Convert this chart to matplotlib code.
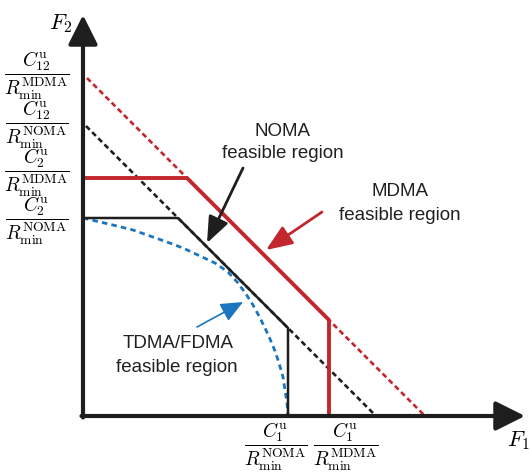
import numpy as np
import matplotlib.pyplot as plt

plt.rcParams['mathtext.fontset'] = 'cm'
plt.rcParams['font.family'] = ['Liberation Sans', 'DejaVu Sans']

# corner values (arbitrary units)
c1_noma, c1_mdma = 2.05, 2.46          # C1^u / Rmin
c2_noma, c2_mdma = 1.98, 2.38          # C2^u / Rmin
c12_noma, c12_mdma = 2.93, 3.42        # C12^u / Rmin  (sum-rate lines F1 + F2 = c12)

# TDMA/FDMA boundary, points
tdma_x = [0.00, 0.17, 0.34, 0.50, 0.67, 0.84, 1.00, 1.17, 1.32, 1.45, 1.55,
          1.63, 1.70, 1.76, 1.82, 1.87, 1.92, 1.96, 2.00, 2.02, 2.04, 2.05]
tdma_y = [1.98, 1.94, 1.90, 1.86, 1.80, 1.74, 1.68, 1.60, 1.53, 1.44, 1.33,
          1.22, 1.11, 1.00, 0.88, 0.77, 0.65, 0.53, 0.39, 0.26, 0.13, 0.00]

ytick_labels = [r'$\dfrac{C_{12}^{\mathrm{u}}}{R_{\min}^{\mathrm{MDMA}}}$',
                r'$\dfrac{C_{12}^{\mathrm{u}}}{R_{\min}^{\mathrm{NOMA}}}$',
                r'$\dfrac{C_{2}^{\mathrm{u}}}{R_{\min}^{\mathrm{MDMA}}}$',
                r'$\dfrac{C_{2}^{\mathrm{u}}}{R_{\min}^{\mathrm{NOMA}}}$']
xtick_labels = [r'$\dfrac{C_{1}^{\mathrm{u}}}{R_{\min}^{\mathrm{NOMA}}}$',
                r'$\dfrac{C_{1}^{\mathrm{u}}}{R_{\min}^{\mathrm{MDMA}}}$']

red = '#c1272d'
blue = '#1b75bf'
dark = '#1e1e1e'

fig = plt.figure(figsize=(5.3, 4.76), dpi=100)
ax = fig.add_axes([83/530, 60/476, 442/530, 401/476])
ax.set_xlim(0, 4.42)
ax.set_ylim(0, 4.01)
ax.axis('off')

# sum-rate dashed lines
xs = np.array([0.04, c12_mdma])
ax.plot(xs, c12_mdma - xs, color=red, lw=1.9, dashes=(2.0, 1.3), clip_on=False)
xs = np.array([0.03, c12_noma])
ax.plot(xs, c12_noma - xs, color=dark, lw=1.9, dashes=(2.0, 1.3), clip_on=False)

# TDMA/FDMA curve
ax.plot(tdma_x, tdma_y, color=blue, lw=2.0, dashes=(2.0, 1.5), clip_on=False)

# NOMA region
ax.plot([0, c12_noma - c2_noma, c1_noma, c1_noma],
        [c2_noma, c2_noma, c12_noma - c1_noma, 0], color=dark, lw=1.8)

# MDMA region
ax.plot([0, c12_mdma - c2_mdma, c1_mdma, c1_mdma],
        [c2_mdma, c2_mdma, c12_mdma - c1_mdma, 0], color=red, lw=2.8)

# axes with arrows
ax.annotate('', xy=(4.42, 0), xytext=(-0.015, 0),
            arrowprops=dict(arrowstyle='-|>,head_length=0.9,head_width=0.45', lw=3,
                            color=dark, mutation_scale=20, shrinkA=0, shrinkB=0))
ax.annotate('', xy=(0, 4.01), xytext=(0, -0.015),
            arrowprops=dict(arrowstyle='-|>,head_length=0.9,head_width=0.45', lw=3,
                            color=dark, mutation_scale=20, shrinkA=0, shrinkB=0))

ax.text(4.35, -0.25, r'$F_1$', fontsize=16, ha='center', va='center')
ax.text(-0.22, 3.92, r'$F_2$', fontsize=16, ha='center', va='center')

# tick labels
for lab, y in zip(ytick_labels, [3.40, 2.91, 2.43, 1.95]):
    ax.text(-0.46, y, lab, fontsize=14, ha='center', va='center')
for lab, x in zip(xtick_labels, [1.93, 2.63]):
    ax.text(x, -0.31, lab, fontsize=14, ha='center', va='center')

# annotations
txt = '#231f20'
ax.text(2.00, 2.84, 'NOMA', fontsize=13.5, ha='center', va='center', color=txt)
ax.text(2.00, 2.62, 'feasible region', fontsize=13.5, ha='center', va='center', color=txt)
ax.text(3.17, 2.24, 'MDMA', fontsize=13.5, ha='center', va='center', color=txt)
ax.text(3.17, 2.01, 'feasible region', fontsize=13.5, ha='center', va='center', color=txt)
ax.text(0.95, 0.73, 'TDMA/FDMA', fontsize=13.5, ha='center', va='center', color=txt)
ax.text(0.94, 0.49, 'feasible region', fontsize=13.5, ha='center', va='center', color=txt)

ax.annotate('', xy=(1.24, 1.73), xytext=(1.60, 2.48),
            arrowprops=dict(arrowstyle='-|>,head_length=0.8,head_width=0.32', lw=2,
                            color=dark, mutation_scale=20, shrinkA=0, shrinkB=0))
ax.annotate('', xy=(1.83, 1.66), xytext=(2.39, 2.04),
            arrowprops=dict(arrowstyle='-|>,head_length=0.8,head_width=0.32', lw=2,
                            color=red, mutation_scale=20, shrinkA=0, shrinkB=0))
ax.annotate('', xy=(1.60, 1.14), xytext=(1.14, 0.89),
            arrowprops=dict(arrowstyle='-|>,head_length=0.8,head_width=0.35', lw=1.2,
                            color=blue, mutation_scale=17, shrinkA=0, shrinkB=0))

fig.savefig('out.png', dpi=100)
